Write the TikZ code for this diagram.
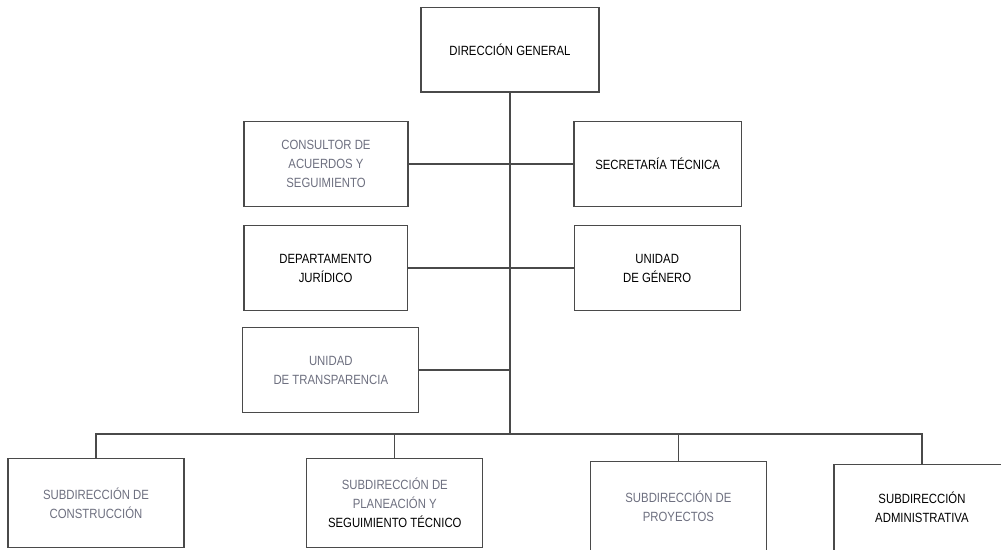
\documentclass[tikz,border=0pt]{standalone}
\usepackage{fontspec}
\setmainfont{Liberation Sans}[FakeStretch=0.85]
\usepackage{tikz}
\definecolor{boxline}{HTML}{4A4A4A}
\definecolor{greytext}{HTML}{6E7080}

\begin{document}
\begin{tikzpicture}[
  unit/.style  ={draw=boxline, line width=0.9pt, fill=white,
                 minimum height=2.12cm, inner sep=1mm, align=center,
                 font=\fontsize{9.5}{13.5}\selectfont, text=black},
  faint/.style ={text=greytext},
  link/.style  ={draw=boxline, line width=0.9pt}
]
  \useasboundingbox (0,0) rectangle (25.025,-13.75);

  \node[unit, minimum width=4.45cm] (dg) at (12.75,-1.24) {DIRECCIÓN GENERAL};

  \node[unit, faint, minimum width=4.1cm]  (consultor)  at ( 8.15,-4.1)
        {CONSULTOR DE\\ACUERDOS Y\\SEGUIMIENTO};
  \node[unit, minimum width=4.18cm]        (secretaria) at (16.44,-4.1)  {SECRETARÍA TÉCNICA};
  \node[unit, minimum width=4.08cm]        (juridico)   at ( 8.14,-6.7)  {DEPARTAMENTO\\JURÍDICO};
  \node[unit, minimum width=4.15cm]        (genero)     at (16.43,-6.7)  {UNIDAD\\DE GÉNERO};
  \node[unit, faint, minimum width=4.4cm]  (transp)     at ( 8.27,-9.25) {UNIDAD\\DE TRANSPARENCIA};

  \node[unit, faint, minimum width=4.4cm, minimum height=2.22cm] (construccion) at ( 2.4,-12.58)
        {SUBDIRECCIÓN DE\\CONSTRUCCIÓN};
  \node[unit, minimum width=4.4cm, minimum height=2.22cm]        (planeacion)   at ( 9.87,-12.58)
        {\textcolor{greytext}{SUBDIRECCIÓN DE}\\\textcolor{greytext}{PLANEACIÓN Y}\\SEGUIMIENTO TÉCNICO};
  \node[unit, faint, minimum width=4.4cm, minimum height=2.22cm] (proyectos)    at (16.96,-12.65)
        {SUBDIRECCIÓN DE\\PROYECTOS};
  \node[unit, minimum width=4.4cm, minimum height=2.15cm]        (admin)        at (23.05,-12.68)
        {SUBDIRECCIÓN\\ADMINISTRATIVA};

  \coordinate (bus) at (12.75,-10.85);

  % spine and side branches
  \draw[link] (dg.south) -- (bus);
  \draw[link] (consultor.east) -- (secretaria.west);
  \draw[link] (juridico.east) -- (genero.west);
  \draw[link] (transp.east) -- (transp.east -| dg.south);

  % lower level
  \draw[link] (construccion.north) -- (construccion.north |- bus)
              -- (admin.north |- bus) -- (admin.north);
  \foreach \n in {planeacion, proyectos}
    \draw[link] (\n.north) -- (\n.north |- bus);
\end{tikzpicture}
\end{document}
